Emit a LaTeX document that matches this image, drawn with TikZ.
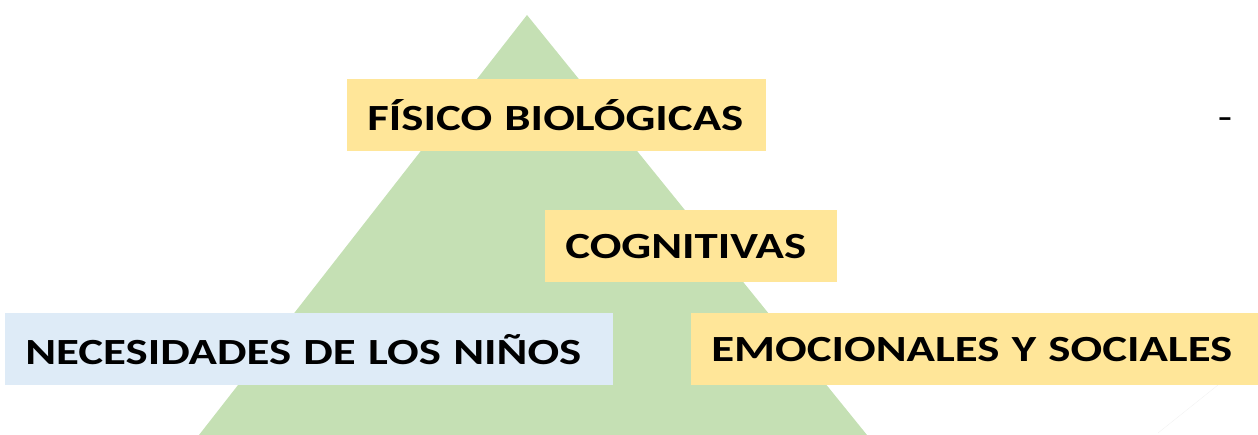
\documentclass[tikz,border=0pt]{standalone}
\usepackage{fontspec}
\setmainfont{Carlito}[FakeStretch=1.27]
\usetikzlibrary{positioning}
\definecolor{LeafGreen}{HTML}{C5E0B4}
\definecolor{SoftGold}{HTML}{FFE699}
\definecolor{SoftBlue}{HTML}{DEEBF7}

\begin{document}
\begin{tikzpicture}[x=0.02cm,y=-0.02cm,
    every node/.style={font=\fontsize{21}{24}\selectfont\bfseries,align=left},
    tag/.style={anchor=north west,inner xsep=0.4cm,inner ysep=0pt,minimum height=1.44cm,text depth=0pt}]
  \useasboundingbox (0,0) rectangle (1258,435);
  \clip (0,0) rectangle (1258,435);
  % pyramid
  \fill[LeafGreen] (527,15) -- (199,435) -- (867,435) -- cycle;
  \draw[gray!12,very thin] (1218,385) -- (1158,433);
  % labels
  \node[tag,fill=SoftGold,text width=7.58cm] (fis) at (347,79) {FÍSICO BIOLÓGICAS};
  \node[tag,fill=SoftGold,text width=5.04cm] (cog) at (545,210) {COGNITIVAS};
  \node[tag,fill=SoftBlue,text width=11.36cm] (nec) at (5,313) {NECESIDADES DE LOS NIÑOS};
  \node[tag,fill=SoftGold,text width=10.54cm] (emo) at (691,313) {EMOCIONALES Y SOCIALES};
  \node[font=\fontsize{21}{24}\selectfont] (dash) at (1225,124) {-};
\end{tikzpicture}
\end{document}
